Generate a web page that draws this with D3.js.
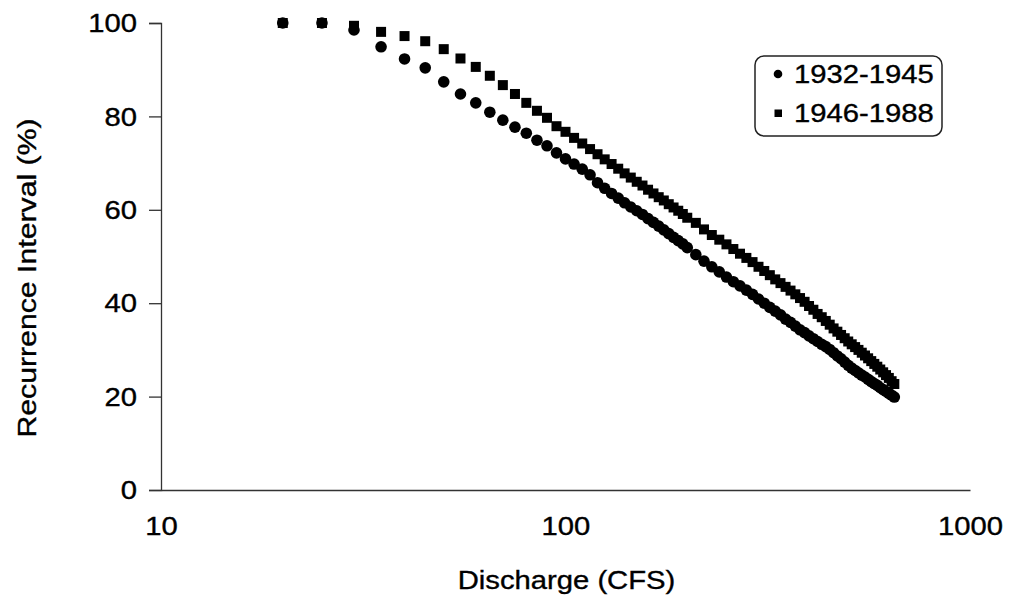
<!DOCTYPE html>
<html>
<head>
<meta charset="utf-8">
<script src="https://d3js.org/d3.v7.min.js"></script>
<style>
  body { margin: 0; background: #fff; }
  text { font-family: "Liberation Sans", Arial, Helvetica, sans-serif; fill: #000; stroke: #000; stroke-width: 0.35px; }
</style>
</head>
<body>
<div id="chart"></div>
<script>
// discharge bins (CFS)
var discharge = [20, 25, 30, 35, 40, 45, 50, 55, 60, 65, 70, 75, 80, 85, 90, 95, 100,
    105, 110, 115, 120, 125, 130, 135, 140, 145, 150, 155, 160, 165, 170, 175, 180,
    185, 190, 195, 200, 210, 220, 230, 240, 250, 260, 270, 280, 290, 300, 310, 320,
    330, 340, 350, 360, 370, 380, 390, 400, 410, 420, 430, 440, 450, 460, 470, 480,
    490, 500, 510, 520, 530, 540, 550, 560, 570, 580, 590, 600, 610, 620, 630, 640, 650];

// recurrence interval (%) 1932-1945
var early = [100, 100, 98.5, 94.9, 92.3, 90.4, 87.4, 84.8, 82.9, 80.9, 79.2, 77.7, 76.4, 74.9, 73.7, 72.2, 70.9,
    69.8, 68.7, 67.5, 65.8, 64.6, 63.5, 62.5, 61.5, 60.6, 59.8, 59.0, 58.1, 57.3, 56.5, 55.7, 54.9,
    54.1, 53.4, 52.7, 51.9, 50.4, 49.0, 47.8, 46.7, 45.6, 44.6, 43.7, 42.8, 41.9, 40.9, 40.0, 39.1,
    38.3, 37.5, 36.6, 35.9, 35.1, 34.3, 33.7, 33.0, 32.4, 31.8, 31.2, 30.7, 30.1, 29.4, 28.7, 28.1,
    27.4, 26.7, 26.1, 25.6, 25.1, 24.6, 24.2, 23.7, 23.2, 22.8, 22.4, 21.9, 21.5, 21.1, 20.7, 20.3, 19.9];

// recurrence interval (%) 1946-1988
var late = [100, 100, 99.4, 98.1, 97.2, 96.1, 94.4, 92.4, 90.6, 88.7, 86.7, 84.8, 82.9, 81.2, 79.7, 77.9, 76.7,
    75.4, 74.2, 73.0, 71.9, 70.8, 69.8, 68.8, 67.8, 66.9, 66.0, 65.2, 64.3, 63.5, 62.7, 62.0, 61.2,
    60.5, 59.8, 59.1, 58.3, 57.2, 55.8, 54.6, 53.6, 52.6, 51.6, 50.6, 49.7, 48.8, 47.8, 46.9, 46.0,
    45.1, 44.3, 43.5, 42.7, 41.9, 41.1, 40.3, 39.4, 38.6, 37.7, 37.0, 36.2, 35.4, 34.6, 33.9, 33.2,
    32.5, 31.8, 31.2, 30.6, 30.0, 29.4, 28.8, 28.2, 27.6, 27.0, 26.4, 25.8, 25.2, 24.6, 24.0, 23.3, 22.7];

var seriesNames = ["1932-1945", "1946-1988"];
var xTicks = [10, 100, 1000];
var yTicks = [0, 20, 40, 60, 80, 100];

var svgWidth = 1009;
var svgHeight = 597;
var margin = { top: 23, right: 39, bottom: 107, left: 161 };
var chartWidth = svgWidth - margin.left - margin.right;
var chartHeight = svgHeight - margin.top - margin.bottom;
var stretch = 1.17; // glyphs in the scan are wider than Arial

var svg = d3.select("#chart")
    .append("svg")
    .attr("width", svgWidth)
    .attr("height", svgHeight);

var chartGroup = svg.append("g")
    .attr("transform", `translate(${margin.left}, ${margin.top})`);

var xScale = d3.scaleLog()
    .domain([10, 1000])
    .range([0, chartWidth]);

var yScale = d3.scaleLinear()
    .domain([0, 100])
    .range([chartHeight, 0]);

// axes
var xAxis = chartGroup.append("g")
    .attr("transform", `translate(0, ${chartHeight})`)
    .call(d3.axisBottom(xScale).tickValues(xTicks).tickSize(0).tickPadding(0).tickFormat(d3.format("d")));

var yAxis = chartGroup.append("g")
    .call(d3.axisLeft(yScale).tickValues(yTicks).tickSize(12).tickPadding(0).tickFormat(d3.format("d")));

[xAxis, yAxis].forEach(function(ax) {
    ax.select(".domain").attr("stroke", "#333").attr("stroke-width", 1.3);
    ax.selectAll(".tick line").attr("stroke", "#333").attr("stroke-width", 1.3);
    ax.selectAll("text").attr("font-size", 25).attr("fill", "#000")
        .attr("font-family", "Liberation Sans, Arial, sans-serif");
});

xAxis.selectAll(".tick text")
    .attr("y", 0)
    .attr("dy", 0)
    .attr("transform", `translate(0, 45) scale(${stretch}, 1)`);

yAxis.selectAll(".tick text")
    .attr("x", 0)
    .attr("dy", "0.35em")
    .attr("transform", `translate(-24, 0) scale(${stretch}, 1)`);

// points: squares first, circles on top
var points = chartGroup.append("g").attr("id", "points");

points.selectAll("rect")
    .data(discharge.map((d, i) => ({ x: d, y: late[i] })))
    .enter()
    .append("rect")
    .attr("x", d => xScale(d.x) - 5)
    .attr("y", d => yScale(d.y) - 5)
    .attr("width", 10)
    .attr("height", 10)
    .attr("fill", "#000");

points.selectAll("circle")
    .data(discharge.map((d, i) => ({ x: d, y: early[i] })))
    .enter()
    .append("circle")
    .attr("cx", d => xScale(d.x))
    .attr("cy", d => yScale(d.y))
    .attr("r", 5.8)
    .attr("fill", "#000");

// legend
var legend = svg.append("g")
    .attr("transform", "translate(755, 56)");

legend.append("rect")
    .attr("width", 187)
    .attr("height", 80)
    .attr("rx", 9)
    .attr("fill", "#fff")
    .attr("stroke", "#222")
    .attr("stroke-width", 1.5);

legend.append("circle")
    .attr("cx", 23)
    .attr("cy", 18)
    .attr("r", 4.3)
    .attr("fill", "#000");

legend.append("rect")
    .attr("x", 19.5)
    .attr("y", 53.5)
    .attr("width", 7.5)
    .attr("height", 7.5)
    .attr("fill", "#000");

legend.selectAll("text.lg")
    .data(seriesNames)
    .enter()
    .append("text")
    .attr("class", "lg")
    .attr("font-size", 25)
    .attr("transform", (d, i) => `translate(39, ${27 + i * 39}) scale(${stretch}, 1)`)
    .text(d => d);

// axis titles
svg.append("text")
    .attr("text-anchor", "middle")
    .attr("font-size", 25)
    .attr("transform", `translate(${margin.left + chartWidth / 2 + 1}, 589) scale(${stretch}, 1)`)
    .text("Discharge (CFS)");

svg.append("text")
    .attr("text-anchor", "middle")
    .attr("font-size", 25)
    .attr("transform", `translate(36, 278) rotate(-90) scale(1.21, 1)`)
    .text("Recurrence Interval (%)");
</script>
</body>
</html>
